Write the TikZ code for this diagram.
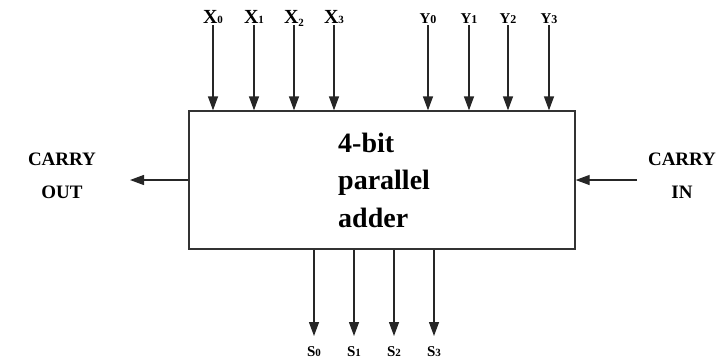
\documentclass[tikz,border=0pt]{standalone}
\usepackage{fontspec}
\setmainfont{Liberation Serif}
\usetikzlibrary{arrows.meta}
\begin{document}
\begin{tikzpicture}[x=1pt,y=-1pt,
  every node/.style={font=\bfseries, inner sep=0pt},
  arr/.style={line width=1.3pt, draw=black!85, -{Triangle[length=14pt,width=10pt]}},
  xlab/.style={anchor=base, font=\bfseries\fontsize{20}{20}\selectfont},
  ylab/.style={anchor=base, font=\bfseries\fontsize{15}{15}\selectfont},
  slab/.style={anchor=base, font=\bfseries\fontsize{15}{15}\selectfont},
  clab/.style={font=\bfseries\fontsize{19}{33}\selectfont, align=center}]
\useasboundingbox (0,0) rectangle (726,362);
\node[draw=black!80, line width=1.3pt, minimum width=386pt, minimum height=138pt] (box) at (382,180) {};
\node[anchor=west, align=left, font=\bfseries\fontsize{28}{37.5}\selectfont] (txt) at (338,180) {4-bit\\parallel\\adder};
% X inputs
\foreach \i/\x/\r in {0/213/0,1/254/0,2/294/-3,3/334/0}{
  \node[xlab] (x\i) at (\x,23.5) {X{\fontsize{11}{11}\selectfont\raisebox{\r pt}{\i}}};
  \coordinate (xs\i) at (\x,25);
  \draw[arr] (xs\i) -- (xs\i |- box.north);
}
% Y inputs
\foreach \i/\x in {0/428,1/469,2/508,3/549}{
  \node[ylab] (y\i) at (\x,23.5) {Y{\fontsize{12}{12}\selectfont\i}};
  \coordinate (ys\i) at (\x,25);
  \draw[arr] (ys\i) -- (ys\i |- box.north);
}
% S outputs
\foreach \i/\x in {0/314,1/354,2/394,3/434}{
  \coordinate (se\i) at (\x,336);
  \draw[arr] (se\i |- box.south) -- (se\i);
  \node[slab] (s\i) at (\x,356) {S{\fontsize{11}{11}\selectfont\i}};
}
% carry
\node[clab] (cout) at (62,176) {CARRY\\OUT};
\coordinate (coe) at (130,180);
\draw[arr] (box.west |- coe) -- (coe);
\node[clab] (cin) at (682,176) {CARRY\\IN};
\coordinate (cis) at (637,180);
\draw[arr] (cis) -- (cis -| box.east);
\end{tikzpicture}
\end{document}
